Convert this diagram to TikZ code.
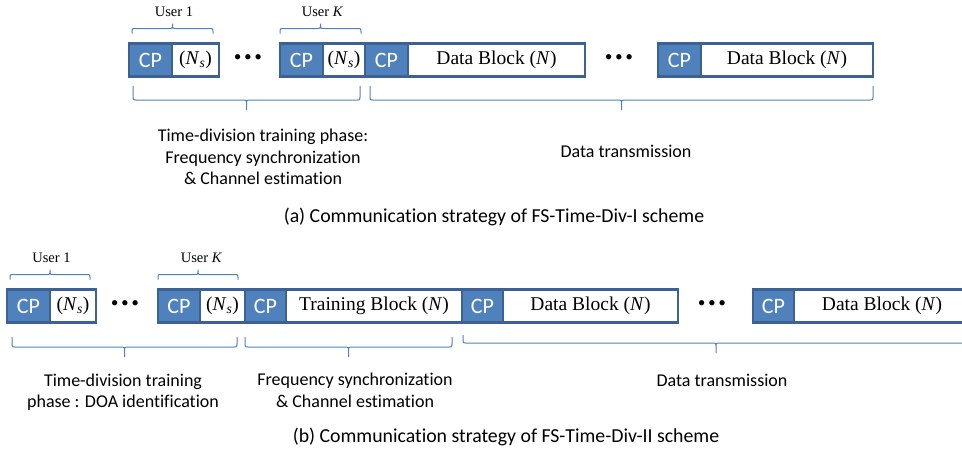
\documentclass[tikz,border=0pt]{standalone}
\usepackage{fontspec}
\usepackage{xcolor}
\usetikzlibrary{calc,
	positioning}
\newfontfamily\labelfont[Ligatures=NoCommon]{Carlito}
\newfontfamily\blockfont{Liberation Serif}
\definecolor{cpblue}{HTML}{4F81BD}
\definecolor{edgeblue}{HTML}{3C6192}
\definecolor{braceblue}{HTML}{4F81BD}
\tikzstyle{cp}=[draw=edgeblue, fill=cpblue, line width=2.5pt, inner sep=0, outer sep=0,
		minimum height=33pt, text=white, font=\labelfont\fontsize{22}{22}\selectfont]
\tikzstyle{blk}=[draw=edgeblue, fill=white, line width=2.5pt, inner sep=0, outer sep=0,
		minimum height=33pt, font=\blockfont\fontsize{19.5}{20}\selectfont]
\tikzstyle{dots}=[inner sep=0, font=\blockfont\fontsize{22}{22}\selectfont]
\tikzstyle{usr}=[inner sep=0, font=\blockfont\fontsize{14.5}{15}\selectfont]
\tikzstyle{lbl}=[inner sep=0, align=center, font=\labelfont\fontsize{18}{21.5}\selectfont]
\tikzstyle{captxt}=[inner sep=0, font=\labelfont\fontsize{19.8}{22}\selectfont]
\tikzset{brc/.style n args={2}{draw=braceblue, line width=1pt, to path={
	let \p1=(\tikztostart), \p2=(\tikztotarget), \n1={(\x1+\x2)/2} in
	(\p1) -- (\x1,{\y1+#1-sign(#1)*3pt}) .. controls (\x1,\y1+#1) .. (\x1+3pt,\y1+#1)
	-- (\n1-3pt,\y1+#1) .. controls (\n1,\y1+#1) .. (\n1,{\y1+#1+sign(#1)*3pt})
	-- (\n1,\y1+#2) -- (\n1,{\y1+#1+sign(#1)*3pt}) .. controls (\n1,\y1+#1) .. (\n1+3pt,\y1+#1)
	-- (\x2-3pt,\y1+#1) .. controls (\x2,\y1+#1) .. (\x2,{\y1+#1-sign(#1)*3pt}) -- (\p2)}}}
\newcommand{\Ns}{(\textit{N}\textsubscript{\textit{s}})}
\newcommand{\dotrow}{\textbullet\kern2.5pt\textbullet\kern2.5pt\textbullet}

\begin{document}
\begin{tikzpicture}[x=1pt, y=1pt]
	\useasboundingbox (0,0) rectangle (962,-456);

	\node[cp, minimum width=43pt, anchor=west] (a1cp) at (129,-60) {CP};
	\node[blk, minimum width=47pt, right=0pt of a1cp] (a1ns) {\Ns};
	\node[dots] (adots1) at (248,-60) {\dotrow};
	\node[cp, minimum width=43pt, anchor=west] (aKcp) at (280,-60) {CP};
	\node[blk, minimum width=42pt, right=0pt of aKcp] (aKns) {\Ns};
	\node[cp, minimum width=43pt, right=0pt of aKns] (acp1) {CP};
	\node[blk, minimum width=177pt, right=0pt of acp1] (adb1) {Data Block (\textit{N})};
	\node[dots] (adots2) at (619,-60) {\dotrow};
	\node[cp, minimum width=43pt, anchor=west] (acp2) at (658,-60) {CP};
	\node[blk, minimum width=172pt, right=0pt of acp2] (adb2) {Data Block (\textit{N})};

	\node[usr] (ua1) at ($(a1cp.north west)!.5!(a1ns.north east)+(0,32)$) {User 1};
	\node[usr] (uaK) at ($(aKcp.north west)!.5!(aKns.north east)+(0,32)$) {User \textit{K}};
	\draw[brc={5pt}{10pt}] ($(a1cp.north west)+(3,10)$) to ($(a1ns.north east)+(-6,10)$);
	\draw[brc={5pt}{10pt}] ($(aKcp.north west)+(0,10)$) to ($(aKns.north east)+(-4,10)$);
	\draw[brc={-14pt}{-24pt}] ($(a1cp.south west)+(4,-9.5)$) to ($(aKns.south east)+(-5,-9.5)$);
	\draw[brc={-14pt}{-24pt}] ($(acp1.south west)+(5,-9.5)$) to ($(adb2.south east)+(0,-9.5)$);

	\node[lbl] (trna) at (263,-157) {Time-division training phase:\\Frequency synchronization\\\& Channel estimation};
	\node[lbl] (data) at (626,-151) {Data transmission};
	\node[captxt] (capa) at (494,-217) {(a) Communication strategy of FS-Time-Div-I scheme};

	\node[cp, minimum width=43pt, anchor=west] (b1cp) at (7,-306) {CP};
	\node[blk, minimum width=46pt, right=0pt of b1cp] (b1ns) {\Ns};
	\node[dots] (bdots1) at (125,-306) {\dotrow};
	\node[cp, minimum width=42pt, anchor=west] (bKcp) at (158,-306) {CP};
	\node[blk, minimum width=45pt, right=0pt of bKcp] (bKns) {\Ns};
	\node[cp, minimum width=41pt, right=0pt of bKns] (bcp0) {CP};
	\node[blk, minimum width=176pt, right=0pt of bcp0] (btb) {Training Block (\textit{N})};
	\node[cp, minimum width=41pt, right=0pt of btb] (bcp1) {CP};
	\node[blk, minimum width=175pt, right=0pt of bcp1] (bdb1) {Data Block (\textit{N})};
	\node[dots] (bdots2) at (712,-306) {\dotrow};
	\node[cp, minimum width=41pt, anchor=west] (bcp2) at (753,-306) {CP};
	\node[blk, minimum width=176pt, right=0pt of bcp2] (bdb2) {Data Block (\textit{N})};

	\node[usr] (ub1) at ($(b1cp.north west)!.5!(b1ns.north east)+(0,32)$) {User 1};
	\node[usr] (ubK) at ($(bKcp.north west)!.5!(bKns.north east)+(0,32)$) {User \textit{K}};
	\draw[brc={5pt}{10pt}] ($(b1cp.north west)+(3,10)$) to ($(b1ns.north east)+(-6,10)$);
	\draw[brc={5pt}{10pt}] ($(bKcp.north west)+(0,10)$) to ($(bKns.north east)+(-7,10)$);
	\draw[brc={-10pt}{-20pt}] ($(b1cp.south west)+(5,-14.5)$) to ($(bKns.south east)+(-8,-14.5)$);
	\draw[brc={-10pt}{-20pt}] ($(bcp0.south west)+(0,-14.5)$) to ($(btb.south east)+(-10,-14.5)$);
	\draw[brc={-8pt}{-18pt}] ($(bcp1.south west)+(1,-12.5)$) to ($(bdb2.south east)+(-1,-12.5)$);

	\node[lbl] (doa) at (123,-392) {Time-division training\\phase : DOA identification};
	\node[lbl] (fsce) at (355,-390.5) {Frequency synchronization\\\& Channel estimation};
	\node[lbl] (datb) at (722,-380) {Data transmission};
	\node[captxt] (capb) at (506,-437) {(b) Communication strategy of FS-Time-Div-II scheme};
\end{tikzpicture}
\end{document}
